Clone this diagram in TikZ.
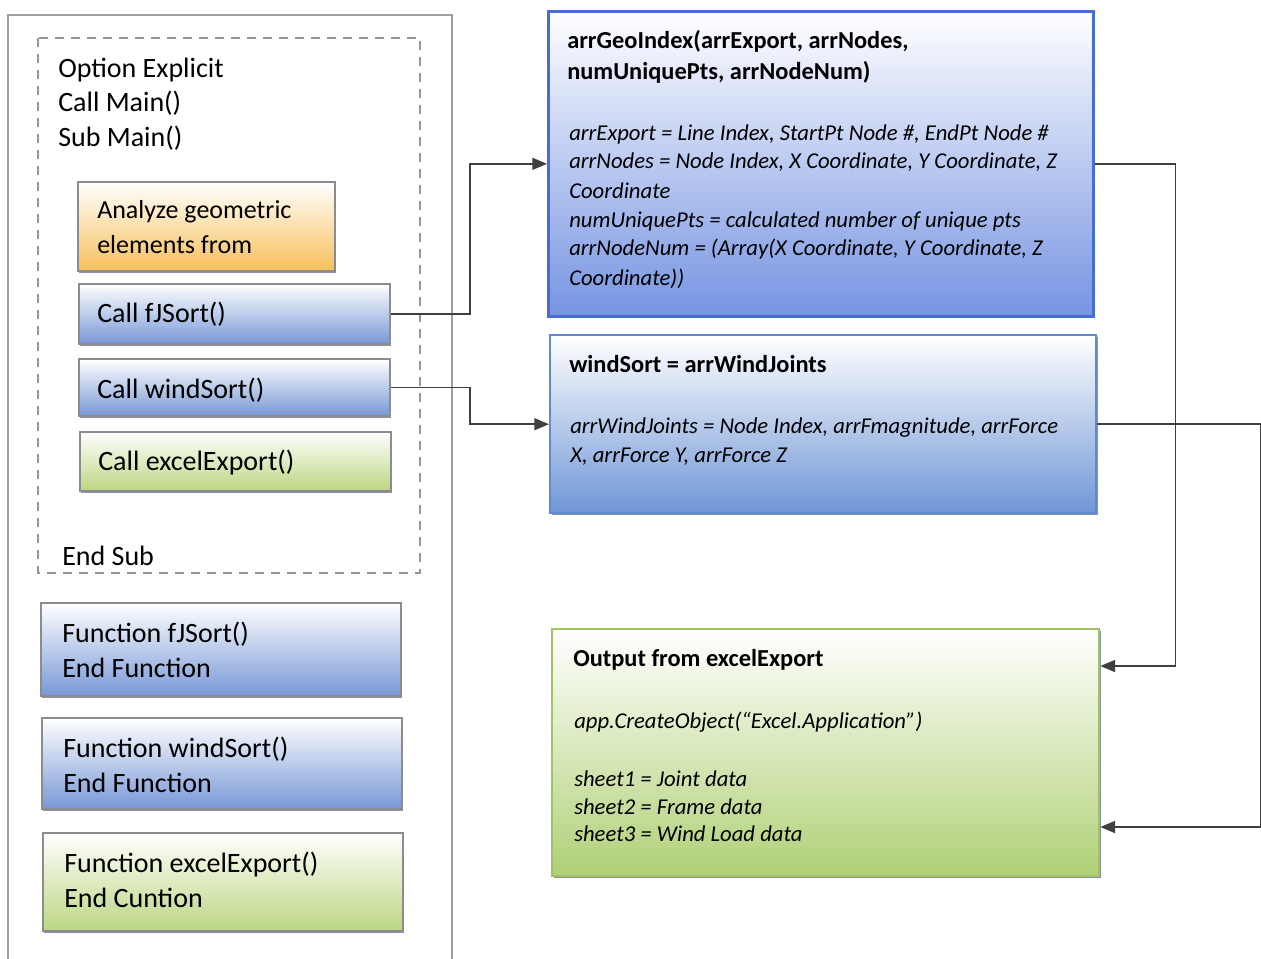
\documentclass[tikz,border=0pt]{standalone}
\usepackage{fontspec}
\setmainfont{Carlito}
\usetikzlibrary{arrows.meta,shadows}
\definecolor{boxgray}{RGB}{140,140,140}
\definecolor{framegray}{RGB}{160,160,160}
\definecolor{dashgray}{RGB}{150,150,150}
\definecolor{linegray}{RGB}{64,64,64}
\definecolor{lblue}{RGB}{120,152,214}
\definecolor{lbluemid}{RGB}{214,224,244}
\definecolor{lorange}{RGB}{247,192,90}
\definecolor{lorangemid}{RGB}{252,228,170}
\definecolor{lgreen}{RGB}{188,214,130}
\definecolor{lgreenmid}{RGB}{232,242,205}
\definecolor{rblue}{RGB}{118,148,226}
\definecolor{rbluemid}{RGB}{200,214,244}
\definecolor{rblueborder}{RGB}{72,108,214}
\definecolor{rblue2}{RGB}{112,150,214}
\definecolor{rblue2mid}{RGB}{198,216,240}
\definecolor{rblue2border}{RGB}{92,140,206}
\definecolor{rgreen}{RGB}{176,208,118}
\definecolor{rgreenmid}{RGB}{222,236,188}
\definecolor{rgreenborder}{RGB}{160,196,98}
\definecolor{shadowc}{RGB}{90,100,140}
\begin{document}
\begin{tikzpicture}[x=0.75pt,y=-0.75pt,
  boxbase/.style={anchor=north west, inner sep=0pt,
    drop shadow={shadow xshift=1pt, shadow yshift=-1.6pt, fill=shadowc, opacity=0.7}},
  lbox/.style={boxbase, draw=boxgray, line width=1.4pt},
  bluefill/.style={top color=white, middle color=lbluemid, bottom color=lblue},
  orangefill/.style={top color=white, middle color=lorangemid, bottom color=lorange},
  greenfill/.style={top color=white, middle color=lgreenmid, bottom color=lgreen},
  ltxt/.style={anchor=base west, inner sep=0pt, font=\fontsize{21}{25}\selectfont},
  otxt/.style={anchor=base west, inner sep=0pt, font=\fontsize{19.5}{23}\selectfont},
  ttl/.style={anchor=base west, inner sep=0pt, font=\fontsize{18.3}{22}\selectfont\bfseries},
  itx/.style={anchor=base west, inner sep=0pt, font=\fontsize{17}{20}\selectfont\itshape},
  conn/.style={draw=linegray, line width=1.1pt, -{Triangle[length=11pt,width=9pt]}}
]
\useasboundingbox (0,0) rectangle (1261,958);
\fill[white] (0,0) rectangle (1261,958);

% outer frame and dashed Main box
\draw[framegray, line width=1pt] (8,960) -- (8,15) -- (452,15) -- (452,960);
\draw[dashgray, line width=1.4pt, dash pattern=on 7pt off 5pt] (38,38) rectangle (420,573);

% Main text
\node[ltxt] (t1) at (58,77) {Option Explicit};
\node[ltxt] (t2) at (58,111) {Call Main()};
\node[ltxt] (t3) at (58,146) {Sub Main()};
\node[ltxt] (t4) at (62,565) {End Sub};

% left boxes
\node[lbox, orangefill, minimum width=192.75pt, minimum height=66.75pt] (ao) at (77,181) {};
\node[otxt] (ao1) at (97,218) {Analyze geometric};
\node[otxt] (ao2) at (97,253) {elements from};

\node[lbox, bluefill, minimum width=233.25pt, minimum height=45pt] (cf) at (78,283) {};
\node[ltxt] (cf1) at (97,322) {Call fJSort()};

\node[lbox, bluefill, minimum width=233.25pt, minimum height=42.75pt] (cw) at (78,358) {};
\node[ltxt] (cw1) at (97,398) {Call windSort()};

\node[lbox, greenfill, minimum width=233.25pt, minimum height=44.25pt] (ce) at (79,431) {};
\node[ltxt] (ce1) at (98,470) {Call excelExport()};

\node[lbox, bluefill, minimum width=270pt, minimum height=69.75pt] (ff) at (40,602) {};
\node[ltxt] (ff1) at (62,642) {Function fJSort()};
\node[ltxt] (ff2) at (62,677) {End Function};

\node[lbox, bluefill, minimum width=270pt, minimum height=68.25pt] (fw) at (41,717) {};
\node[ltxt] (fw1) at (63,757) {Function windSort()};
\node[ltxt] (fw2) at (63,792) {End Function};

\node[lbox, greenfill, minimum width=270pt, minimum height=73.5pt] (fe) at (42,832) {};
\node[ltxt] (fe1) at (64,872) {Function excelExport()};
\node[ltxt] (fe2) at (64,907) {End Cuntion};

% right boxes
\node[boxbase, draw=rblueborder, line width=2pt, top color=white, middle color=rbluemid, bottom color=rblue,
      minimum width=408.75pt, minimum height=228.75pt] (b1) at (547,10) {};
\node[ttl] (b1t1) at (567,48) {arrGeoIndex(arrExport, arrNodes,};
\node[ttl] (b1t2) at (567,79) {numUniquePts, arrNodeNum)};
\node[itx] (b1l1) at (569,140) {arrExport = Line Index, StartPt Node \#, EndPt Node \#};
\node[itx] (b1l2) at (569,168) {arrNodes = Node Index, X Coordinate, Y Coordinate, Z};
\node[itx] (b1l3) at (569,198) {Coordinate};
\node[itx] (b1l4) at (569,227) {numUniquePts = calculated number of unique pts};
\node[itx] (b1l5) at (569,255) {arrNodeNum = (Array(X Coordinate, Y Coordinate, Z};
\node[itx] (b1l6) at (569,285) {Coordinate))};

\node[boxbase, draw=rblue2border, line width=1.8pt, top color=white, middle color=rblue2mid, bottom color=rblue2,
      minimum width=409.5pt, minimum height=133.5pt] (b2) at (549,334) {};
\node[ttl] (b2t1) at (569,372) {windSort = arrWindJoints};
\node[itx] (b2l1) at (570,433) {arrWindJoints = Node Index, arrFmagnitude, arrForce};
\node[itx] (b2l2) at (570,462) {X, arrForce Y, arrForce Z};

\node[boxbase, draw=rgreenborder, line width=1.8pt, top color=white, middle color=rgreenmid, bottom color=rgreen,
      minimum width=410.25pt, minimum height=185.25pt] (b3) at (551,628) {};
\node[ttl] (b3t1) at (573,666) {Output from excelExport};
\node[itx] (b3l1) at (574,728) {app.CreateObject(“Excel.Application”)};
\node[itx] (b3l2) at (574,786) {sheet1 = Joint data};
\node[itx] (b3l3) at (574,814) {sheet2 = Frame data};
\node[itx] (b3l4) at (574,841) {sheet3 = Wind Load data};

% connectors
\coordinate (in3a) at (b3.north east |- 0,666);
\coordinate (in3b) at (b3.north east |- 0,827);
\draw[conn] (cf.east) -- ++(79,0) |- (b1.west);
\draw[conn] (cw.east) -- ++(79,0) |- (b2.west);
\draw[conn] (b1.east) -- ++(81,0) |- (in3a);
\draw[conn] (b2.east) -- ++(163,0) |- (in3b);
\end{tikzpicture}
\end{document}
